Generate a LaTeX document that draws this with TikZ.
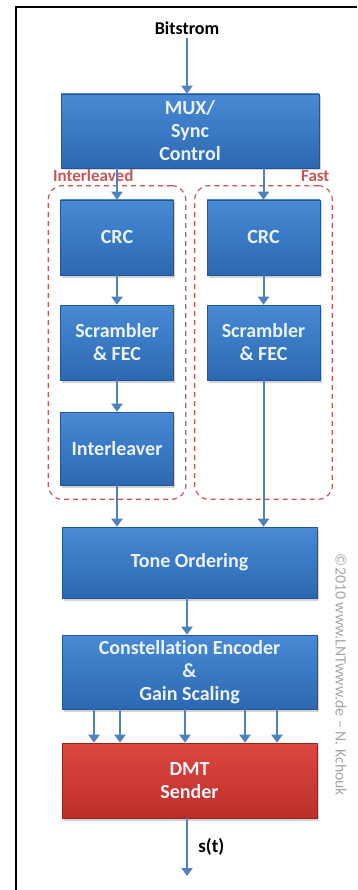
\documentclass[tikz,border=0pt]{standalone}
\usepackage{fontspec}
\setmainfont{Carlito}[Ligatures=NoCommon]
\usetikzlibrary{arrows.meta,shadows,fit}
\definecolor{boxtop}{RGB}{72,138,212}
\definecolor{boxbot}{RGB}{44,104,178}
\definecolor{boxedge}{RGB}{35,85,150}
\definecolor{redtop}{RGB}{218,72,64}
\definecolor{redbot}{RGB}{190,46,40}
\definecolor{rededge}{RGB}{150,35,30}
\definecolor{arrowblue}{RGB}{79,129,189}
\definecolor{grpred}{RGB}{200,85,85}
\definecolor{boxtext}{RGB}{235,242,252}

\begin{document}
\begin{tikzpicture}[x=1pt,y=-1pt,node distance=105pt,
  block/.style={rectangle,draw=boxedge,line width=0.6pt,top color=boxtop,bottom color=boxbot,
    text=boxtext,font=\fontsize{20}{23}\selectfont\bfseries,align=center,inner sep=0pt,
    minimum width=113pt,minimum height=75pt,
    drop shadow={shadow xshift=1.5pt,shadow yshift=-2.5pt,opacity=0.35}},
  wide block/.style={block,minimum width=255pt},
  red block/.style={wide block,draw=rededge,top color=redtop,bottom color=redbot},
  group/.style={draw=grpred,dashed,dash pattern=on 5pt off 4pt,line width=1.2pt,rounded corners=14pt,inner sep=12pt},
  grp label/.style={text=grpred,font=\fontsize{17}{19}\selectfont\bfseries},
  arr/.style={draw=arrowblue,line width=2pt,-{Triangle[width=11pt,length=8pt]}}]
  \useasboundingbox (0,0) rectangle (357,890);
  % frame
  \draw[line width=1.3pt] (16,890) -- (16,7) -- (357,7);

  \node[font=\fontsize{18}{20}\selectfont\bfseries] (bits) at (187,28) {Bitstrom};
  \node[wide block,minimum width=258pt,minimum height=74pt] (mux) at (190,131) {MUX/\\Sync\\Control};

  % interleaved path
  \node[block] (crc1) at (117,237.5) {CRC};
  \node[block] (scr1) [below of=crc1] {Scrambler\\\& FEC};
  \node[block,minimum height=73pt] (ilv) [below of=scr1,node distance=106pt] {Interleaver};

  % fast path
  \node[block] (crc2) at (263.5,237.5) {CRC};
  \node[block] (scr2) [below of=crc2] {Scrambler\\\& FEC};

  \node[group,fit=(crc1) (ilv),inner ysep=14pt] (grp1) {};
  \node[group,fit=(crc2) (scr2 |- ilv.south),inner ysep=14pt] (grp2) {};
  \node[grp label,anchor=base west] at ([xshift=2pt,yshift=4pt]grp1.north west) {Interleaved};
  \node[grp label,anchor=base east] at ([yshift=4pt]grp2.north east) {Fast};

  \node[wide block,minimum height=71pt] (tone) at (189.5,562.5) {Tone Ordering};
  \node[wide block,minimum height=74pt] (const) [below of=tone,node distance=109.5pt] {Constellation Encoder\\\&\\Gain Scaling};
  \node[red block] (dmt) [below of=const,node distance=108.5pt] {DMT\\Sender};
  \coordinate (out) at (187,876);

  \node[text=black!35,rotate=-90,font=\fontsize{15.8}{18}\selectfont] (copy) at (341,675) {©2010 www.LNTwww.de -- N. Kchouk};

  \draw[arr] (bits) -- (bits |- mux.north);
  \draw[arr] (mux.south -| crc1.north) -- (crc1);
  \draw[arr] (mux.south -| crc2.north) -- (crc2);
  \draw[arr] (crc1) -- (scr1);
  \draw[arr] (scr1) -- (ilv);
  \draw[arr] (crc2) -- (scr2);
  \draw[arr] (ilv) -- (ilv |- tone.north);
  \draw[arr] (scr2) -- (scr2 |- tone.north);
  \draw[arr] (tone.south -| out) -- (const.north -| out);
  \foreach \dx in {-95.5,-69.5,-4.5,55.5,87.5}
    \draw[arr] ([xshift=\dx pt]const.south) -- ([xshift=\dx pt]dmt.north);
  \draw[arr] (dmt.south -| out) -- node[right=7pt,font=\fontsize{19}{21}\selectfont\bfseries] {s(t)} (out);
\end{tikzpicture}
\end{document}
